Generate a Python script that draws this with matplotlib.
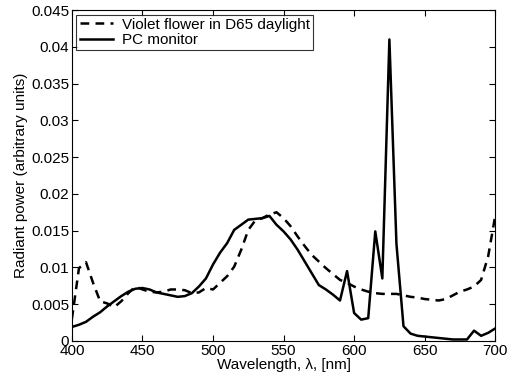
import numpy as np
import matplotlib
matplotlib.use("Agg")
import matplotlib.pyplot as plt
from matplotlib.ticker import FuncFormatter

plt.rcParams['font.family'] = ['Liberation Sans', 'DejaVu Sans']

# wavelength grid, 5 nm steps
wavelength = np.arange(400, 705, 5)

# violet flower under D65 daylight (dashed)
violet = [0.0030, 0.0099, 0.0107, 0.0079, 0.0054, 0.0051, 0.0046, 0.0054, 0.0065, 0.0074,
          0.0070, 0.0067, 0.0066, 0.0067, 0.0070, 0.0070, 0.0069, 0.0065, 0.0066, 0.0072,
          0.0070, 0.0079, 0.0088, 0.0101, 0.0124, 0.0151, 0.0164, 0.0167, 0.0172, 0.0175,
          0.0167, 0.0156, 0.0142, 0.0129, 0.0117, 0.0108, 0.0099, 0.0091, 0.0083, 0.0079,
          0.0074, 0.0070, 0.0067, 0.0065, 0.0064, 0.0064, 0.0064, 0.0062, 0.0060, 0.0059,
          0.0057, 0.0056, 0.0055, 0.0057, 0.0062, 0.0067, 0.0070, 0.0074, 0.0083, 0.0115,
          0.0170]

# PC monitor (solid)
monitor = [0.0019, 0.0022, 0.0026, 0.0033, 0.0039, 0.0047, 0.0054, 0.0061, 0.0067, 0.0071,
           0.0072, 0.0070, 0.0066, 0.0064, 0.0062, 0.0060, 0.0061, 0.0065, 0.0074, 0.0085,
           0.0104, 0.0120, 0.0133, 0.0151, 0.0158, 0.0165, 0.0166, 0.0167, 0.0170, 0.0158,
           0.0149, 0.0138, 0.0124, 0.0108, 0.0092, 0.0076, 0.0070, 0.0063, 0.0055, 0.0095,
           0.0038, 0.0029, 0.0031, 0.0149, 0.0085, 0.0410, 0.0132, 0.0020, 0.0010, 0.0007,
           0.0006, 0.0005, 0.0004, 0.0003, 0.0002, 0.0002, 0.0002, 0.0014, 0.0007, 0.0011,
           0.0017]

fig = plt.figure(figsize=(5.1, 3.87), dpi=100)
ax = fig.add_axes([0.141, 0.119, 0.830, 0.855])

ax.plot(wavelength, violet, color='black', lw=1.8, ls=(0, (3.5, 2.5)),
        label='Violet flower in D65 daylight')
ax.plot(wavelength, monitor, color='black', lw=1.8, label='PC monitor')

ax.set_xlim(400, 700)
ax.set_ylim(0, 0.045)
ax.set_xticks(np.arange(400, 701, 50))
ax.set_yticks(np.arange(0, 0.0451, 0.005))
ax.yaxis.set_major_formatter(FuncFormatter(lambda v, p: '%g' % round(v, 4)))
ax.tick_params(direction='in', top=True, right=True, labelsize=11, length=4, pad=2)
for s in ax.spines.values():
    s.set_linewidth(0.8)

ax.set_xlabel('Wavelength, λ, [nm]', fontsize=11, labelpad=0)
ax.set_ylabel('Radiant power (arbitrary units)', fontsize=11, labelpad=2)

leg = ax.legend(loc='upper left', fontsize=11, frameon=True, fancybox=False,
                borderaxespad=0.3, handlelength=2.2, borderpad=0.2, labelspacing=0.1,
                handletextpad=0.6)
leg.get_frame().set_edgecolor('black')
leg.get_frame().set_linewidth(0.8)

plt.savefig('out.png', dpi=100)
